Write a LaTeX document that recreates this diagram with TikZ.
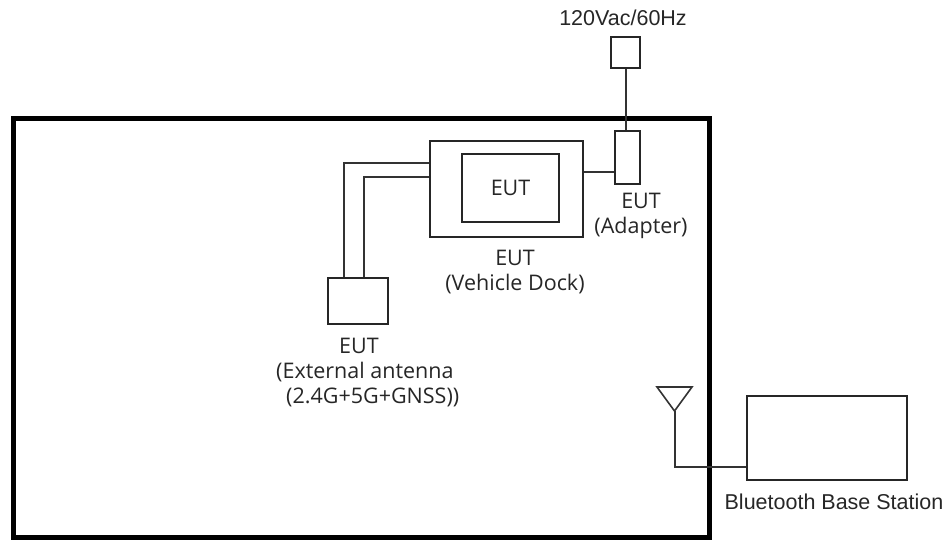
\documentclass[tikz,border=0pt]{standalone}
\usepackage{fontspec}
\setmainfont{Liberation Sans}
\newfontfamily\segoe{Open Sans}
\begin{document}
\begin{tikzpicture}[x=1pt,y=-1pt,
  thin box/.style={draw=black!85,line width=2pt,fill=white,inner sep=0pt},
  wire/.style={draw=black!80,line width=2pt},
  lbl/.style={text=black!85,inner sep=0pt,font=\segoe\fontsize{21.5}{25}\selectfont,align=center},
  albl/.style={text=black!85,inner sep=0pt,font=\fontsize{21.5}{25}\selectfont,align=center}]
\useasboundingbox (0,0) rectangle (946,541);
% enclosure
\node[draw=black,line width=4.5pt,minimum width=696pt,minimum height=419pt,inner sep=0pt,anchor=north west] (room) at (11,116) {};
% power source
\node[thin box,minimum width=29pt,minimum height=31pt] (mains) at (625.5,52.5) {};
\node[albl] (mainslbl) at (623,18) {120Vac/60Hz};
% adapter
\node[thin box,minimum width=25pt,minimum height=53pt] (adapter) at (627.5,157.5) {};
\node[lbl] (adapterlbl) at (641,216) {EUT\\(Adapter)};
\draw[wire] (mains.south) -- (mains.south |- adapter.north);
% dock
\node[thin box,minimum width=153pt,minimum height=96pt] (dock) at (506.5,189) {};
\node[thin box,minimum width=97pt,minimum height=68pt,font=\segoe\fontsize{21.5}{25}\selectfont,text=black!85] (eut) at (510.5,188) {EUT};
\node[lbl] (docklbl) at (515,272) {EUT\\(Vehicle Dock)};
\coordinate (dockadp) at (583,172);
\draw[wire] (dock.east |- dockadp) -- (adapter.west |- dockadp);
% external antenna
\node[thin box,minimum width=60pt,minimum height=46pt] (ant) at (358,301) {};
\coordinate (cabA) at (430,163);
\coordinate (cabB) at (430,177);
\coordinate (cabAx) at (344,278);
\coordinate (cabBx) at (364,278);
\draw[wire] (dock.west |- cabA) -| (cabAx |- ant.north);
\draw[wire] (dock.west |- cabB) -| (cabBx |- ant.north);
\node[lbl,align=left,anchor=north west] (antlbl) at (276,338) {\hspace*{63pt}EUT\\(External antenna\\\hspace*{10pt}(2.4G+5G+GNSS))};
% bluetooth base station
\node[thin box,minimum width=160pt,minimum height=84pt] (bs) at (827,438) {};
\node[albl] (bslbl) at (834,502) {Bluetooth Base Station};
\coordinate (antapex) at (674.5,411);
\draw[draw=black!80,line width=1.6pt,line join=miter] (657,387) -- (692,387) -- (antapex) -- cycle;
\coordinate (antcorner) at (674.5,467);
\draw[wire] (antapex) -- (antcorner) -- (bs.west |- antcorner);
\end{tikzpicture}
\end{document}
